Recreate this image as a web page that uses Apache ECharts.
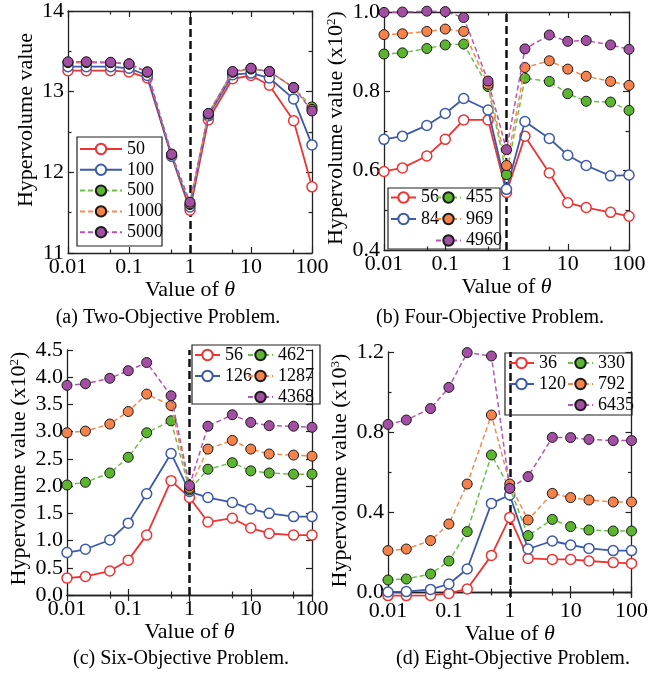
<!DOCTYPE html>
<html><head><meta charset="utf-8">
<script src="https://cdn.jsdelivr.net/npm/echarts@6/dist/echarts.min.js"></script>
<style>html,body{margin:0;padding:0;background:#fff}#c{width:651px;height:673px}</style>
</head><body><div id="c"></div>
<script>
// ---- data ----
const theta = [0.01, 0.02, 0.05, 0.1, 0.2, 0.5, 1, 2, 5, 10, 20, 50, 100];
const xMajorTicks = [0.01, 0.1, 1, 10, 100];
const xMinorTicks = [0.05, 0.5, 5, 50];
const refTheta = 1;

// (a) Two-Objective
const namesA = ['50', '100', '500', '1000', '5000'];
const a50   = [13.26, 13.26, 13.26, 13.245, 13.17, 12.20, 11.53, 12.65, 13.16, 13.20, 13.08, 12.64, 11.82];
const a100  = [13.31, 13.31, 13.31, 13.29, 13.20, 12.20, 11.57, 12.70, 13.21, 13.23, 13.17, 12.91, 12.34];
const a500  = [13.36, 13.36, 13.36, 13.34, 13.24, 12.22, 11.60, 12.72, 13.24, 13.28, 13.25, 13.05, 12.81];
const a1000 = [13.365, 13.365, 13.36, 13.345, 13.245, 12.225, 11.61, 12.73, 13.245, 13.29, 13.25, 13.05, 12.78];
const a5000 = [13.37, 13.37, 13.365, 13.345, 13.245, 12.225, 11.63, 12.73, 13.25, 13.29, 13.25, 13.05, 12.76];
const yMajorA = [11, 12, 13, 14];
const yMinorA = [11.5, 12.5, 13.5];

// (b) Four-Objective (x10^2)
const namesB = ['56', '84', '455', '969', '4960'];
const b56   = [0.598, 0.607, 0.637, 0.679, 0.728, 0.728, 0.545, 0.687, 0.594, 0.519, 0.507, 0.495, 0.485];
const b84   = [0.679, 0.687, 0.714, 0.744, 0.782, 0.753, 0.553, 0.724, 0.681, 0.639, 0.613, 0.587, 0.589];
const b455  = [0.894, 0.897, 0.908, 0.917, 0.919, 0.812, 0.590, 0.833, 0.825, 0.794, 0.775, 0.773, 0.752];
const b969  = [0.943, 0.945, 0.951, 0.957, 0.951, 0.818, 0.613, 0.860, 0.877, 0.856, 0.838, 0.825, 0.815];
const b4960 = [0.999, 1.000, 1.002, 1.001, 0.986, 0.826, 0.653, 0.907, 0.942, 0.926, 0.928, 0.917, 0.906];
const yMajorB = [0.4, 0.6, 0.8, 1.0];
const yMinorB = [0.5, 0.7, 0.9];

// (c) Six-Objective (x10^2)
const namesC = ['56', '126', '462', '1287', '4368'];
const c56   = [0.31, 0.34, 0.44, 0.64, 1.10, 2.10, 1.79, 1.34, 1.41, 1.23, 1.13, 1.10, 1.10];
const c126  = [0.78, 0.84, 1.01, 1.32, 1.86, 2.60, 1.90, 1.79, 1.70, 1.58, 1.50, 1.44, 1.44];
const c462  = [2.02, 2.07, 2.24, 2.53, 2.98, 3.20, 1.93, 2.31, 2.43, 2.28, 2.24, 2.22, 2.22];
const c1287 = [2.98, 3.01, 3.14, 3.37, 3.69, 3.48, 1.96, 2.68, 2.84, 2.68, 2.59, 2.57, 2.55];
const c4368 = [3.85, 3.88, 3.98, 4.12, 4.27, 3.66, 2.01, 3.10, 3.31, 3.17, 3.11, 3.10, 3.08];
const yMajorC = [0, 0.5, 1, 1.5, 2, 2.5, 3, 3.5, 4, 4.5];
const yMinorC = [];

// (d) Eight-Objective (x10^3)
const namesD = ['36', '120', '330', '792', '6435'];
const d36   = [-0.018, -0.018, -0.017, -0.007, 0.015, 0.183, 0.373, 0.168, 0.163, 0.163, 0.155, 0.147, 0.143];
const d120  = [0.000, 0.002, 0.013, 0.040, 0.115, 0.443, 0.485, 0.215, 0.255, 0.235, 0.218, 0.207, 0.207];
const d330  = [0.060, 0.065, 0.090, 0.155, 0.302, 0.685, 0.520, 0.282, 0.363, 0.327, 0.310, 0.305, 0.305];
const d792  = [0.207, 0.215, 0.257, 0.340, 0.540, 0.885, 0.540, 0.360, 0.493, 0.472, 0.460, 0.450, 0.450];
const d6435 = [0.838, 0.860, 0.917, 1.023, 1.197, 1.180, 0.518, 0.577, 0.773, 0.772, 0.763, 0.757, 0.757];
const yMajorD = [0, 0.4, 0.8, 1.2];
const yMinorD = [0.2, 0.6, 1.0];

// ---- styles ----
const FONT = '"Liberation Serif", "Times New Roman", serif';
const styles = [
  { line: '#ee3333', fill: '#ffffff', border: '#ee3333', dash: 'solid' },
  { line: '#3d5aa8', fill: '#ffffff', border: '#3d5aa8', dash: 'solid' },
  { line: '#6cc04a', fill: '#5cb52e', border: '#1a1a1a', dash: [5, 3] },
  { line: '#f58a4e', fill: '#f5824a', border: '#1a1a1a', dash: [5, 3] },
  { line: '#b457b4', fill: '#a24ea2', border: '#1a1a1a', dash: [5, 3] }
];

const panels = [
  { key: 'a', grid: { left: 68, top: 11, width: 244, height: 242 }, ymin: 11, ymax: 14,
    yMajor: yMajorA, yMinor: yMinorA, digits: 0, sup: null, nameGap: 24, nameShift: 24, xNameGap: 16,
    names: namesA, vals: [a50, a100, a500, a1000, a5000],
    caption: '(a) Two-Objective Problem.', capX: 168, capY: 318,
    box: { x: 77, y: 137, width: 85, height: 109 }, itemWidth: 42,
    legendCols: [{ left: 79, top: 140, items: [0, 1, 2, 3, 4] }], legendGap: 2.8 },
  { key: 'b', grid: { left: 384, top: 12, width: 245, height: 238 }, ymin: 0.4, ymax: 1.0,
    yMajor: yMajorB, yMinor: yMinorB, digits: 1, sup: '2', nameGap: 30, nameShift: 6, xNameGap: 17,
    names: namesB, vals: [b56, b84, b455, b969, b4960],
    caption: '(b) Four-Objective Problem.', capX: 490, capY: 318,
    box: { x: 388, y: 188, width: 112, height: 61 }, itemWidth: 25,
    legendCols: [{ left: 390, top: 188.5, items: [0, 1] }, { left: 435, top: 188.5, items: [2, 3, 4] }], legendGap: 3.5 },
  { key: 'c', grid: { left: 67, top: 350, width: 245, height: 245 }, ymin: 0, ymax: 4.5,
    yMajor: yMajorC, yMinor: yMinorC, digits: 1, sup: '2', nameGap: 33, nameShift: 8, xNameGap: 12,
    names: namesC, vals: [c56, c126, c462, c1287, c4368],
    caption: '(c) Six-Objective Problem.', capX: 181, capY: 659,
    box: { x: 192, y: 345, width: 128, height: 59 }, itemWidth: 25,
    legendCols: [{ left: 194, top: 346, items: [0, 1] }, { left: 247, top: 346, items: [2, 3, 4] }], legendGap: 3 },
  { key: 'd', grid: { left: 388, top: 352, width: 247, height: 245 }, ymin: -0.025, ymax: 1.2,
    yMajor: yMajorD, yMinor: yMinorD, digits: 1, sup: '3', nameGap: 34, nameShift: 8, xNameGap: 11,
    names: namesD, vals: [d36, d120, d330, d792, d6435],
    caption: '(d) Eight-Objective Problem.', capX: 513, capY: 659,
    box: { x: 505, y: 353, width: 127, height: 62 }, itemWidth: 25,
    legendCols: [{ left: 508, top: 354, items: [0, 1] }, { left: 567, top: 354, items: [2, 3, 4] }], legendGap: 3 }
];

const AX = '#222';
const grids = [], xAxes = [], yAxes = [], series = [], legends = [], graphics = [];

panels.forEach((p, gi) => {
  grids.push(Object.assign({ containLabel: false }, p.grid));
  const baseX = { type: 'log', logBase: 10, gridIndex: gi, min: 0.01, max: 100, splitLine: { show: false } };
  const fmtX = v => String(parseFloat(Number(v).toPrecision(6)));
  xAxes.push(Object.assign({}, baseX, {
    position: 'bottom',
    axisLine: { show: true, lineStyle: { color: AX, width: 1.3 } },
    axisTick: { show: true, inside: true, length: 6, customValues: xMajorTicks, lineStyle: { color: AX, width: 1.2 } },
    axisLabel: { show: true, customValues: xMajorTicks, formatter: fmtX, margin: 3, fontSize: 22, fontFamily: FONT, color: '#000' },
    name: 'Value of {it|θ}', nameLocation: 'middle', nameGap: p.xNameGap,
    nameTextStyle: { fontSize: 22, fontFamily: FONT, color: '#000',
      rich: { it: { fontSize: 22, fontFamily: FONT, fontStyle: 'italic', color: '#000' } } }
  }));
  xAxes.push(Object.assign({}, baseX, { position: 'bottom', axisLine: { show: false }, axisLabel: { show: false },
    axisTick: { show: true, inside: true, length: 3.5, customValues: xMinorTicks, lineStyle: { color: AX, width: 1.2 } } }));
  xAxes.push(Object.assign({}, baseX, { position: 'top', axisLine: { show: true, lineStyle: { color: AX, width: 1.3 } }, axisLabel: { show: false },
    axisTick: { show: true, inside: true, length: 6, customValues: xMajorTicks, lineStyle: { color: AX, width: 1.2 } } }));
  xAxes.push(Object.assign({}, baseX, { position: 'top', axisLine: { show: false }, axisLabel: { show: false },
    axisTick: { show: true, inside: true, length: 3.5, customValues: xMinorTicks, lineStyle: { color: AX, width: 1.2 } } }));

  const baseY = { type: 'value', gridIndex: gi, min: p.ymin, max: p.ymax, splitLine: { show: false } };
  const yname = p.sup ? 'Hypervolume value (x10{sup|' + p.sup + '})' : 'Hypervolume value';
  yAxes.push(Object.assign({}, baseY, {
    position: 'left',
    axisLine: { show: true, lineStyle: { color: AX, width: 1.3 } },
    axisTick: { show: true, inside: true, length: 6, customValues: p.yMajor, lineStyle: { color: AX, width: 1.2 } },
    axisLabel: { show: true, customValues: p.yMajor, formatter: v => Number(v).toFixed(p.digits), margin: 4, fontSize: 22, fontFamily: FONT, color: '#000' },
    name: yname, nameLocation: 'middle', nameGap: p.nameGap,
    nameTextStyle: { fontSize: 22, fontFamily: FONT, color: '#000', lineHeight: 24, padding: [0, 0, 0, p.nameShift],
      rich: { sup: { fontSize: 13, fontFamily: FONT, color: '#000', verticalAlign: 'top', lineHeight: 14 } } }
  }));
  yAxes.push(Object.assign({}, baseY, { position: 'left', axisLine: { show: false }, axisLabel: { show: false },
    axisTick: { show: p.yMinor.length > 0, inside: true, length: 3.5, customValues: p.yMinor.length ? p.yMinor : [p.ymin], lineStyle: { color: AX, width: 1.2 } } }));
  yAxes.push(Object.assign({}, baseY, { position: 'right', axisLine: { show: true, lineStyle: { color: AX, width: 1.3 } }, axisLabel: { show: false },
    axisTick: { show: true, inside: true, length: 6, customValues: p.yMajor, lineStyle: { color: AX, width: 1.2 } } }));
  yAxes.push(Object.assign({}, baseY, { position: 'right', axisLine: { show: false }, axisLabel: { show: false },
    axisTick: { show: p.yMinor.length > 0, inside: true, length: 3.5, customValues: p.yMinor.length ? p.yMinor : [p.ymin], lineStyle: { color: AX, width: 1.2 } } }));

  p.vals.forEach((vals, si) => {
    const st = styles[si];
    const s = {
      type: 'line', name: p.key + ':' + p.names[si],
      xAxisIndex: gi * 4, yAxisIndex: gi * 4,
      data: theta.map((t, i) => [t, vals[i]]),
      symbol: 'circle', symbolSize: 10, clip: false, animation: false, z: 2 + si,
      lineStyle: { color: st.line, width: si < 2 ? 1.8 : 1.5, type: st.dash },
      itemStyle: { color: st.fill, borderColor: st.border, borderWidth: si < 2 ? 1.5 : 1 },
      emphasis: { disabled: true }
    };
    if (si === 0) {
      s.markLine = { silent: true, z: 1, symbol: ['none', 'none'], label: { show: false }, animation: false,
        lineStyle: { type: [8, 4], color: '#111', width: 2.5 }, data: [{ xAxis: refTheta }] };
    }
    series.push(s);
  });

  p.legendCols.forEach(col => {
    legends.push({
      orient: 'vertical', left: col.left, top: col.top, padding: 0,
      itemWidth: p.itemWidth, itemHeight: 13, itemGap: p.legendGap, selectedMode: false,
      data: col.items.map(i => p.key + ':' + p.names[i]),
      formatter: n => n.split(':')[1],
      textStyle: { fontSize: 18, fontFamily: FONT, color: '#000', lineHeight: 18 }
    });
  });

  graphics.push({ type: 'rect', shape: p.box, style: { fill: 'none', stroke: '#222', lineWidth: 1.2 }, z: 100, silent: true });
  graphics.push({ type: 'text', x: p.capX, y: p.capY, silent: true,
    style: { text: p.caption, fontSize: 20, fontFamily: FONT, fill: '#000', align: 'center', verticalAlign: 'middle' } });
});

const chart = echarts.init(document.getElementById('c'), null, { renderer: 'canvas' });
chart.setOption({
  animation: false,
  backgroundColor: '#fff',
  grid: grids, xAxis: xAxes, yAxis: yAxes, series: series, legend: legends, graphic: graphics
});
</script>
</body></html>
